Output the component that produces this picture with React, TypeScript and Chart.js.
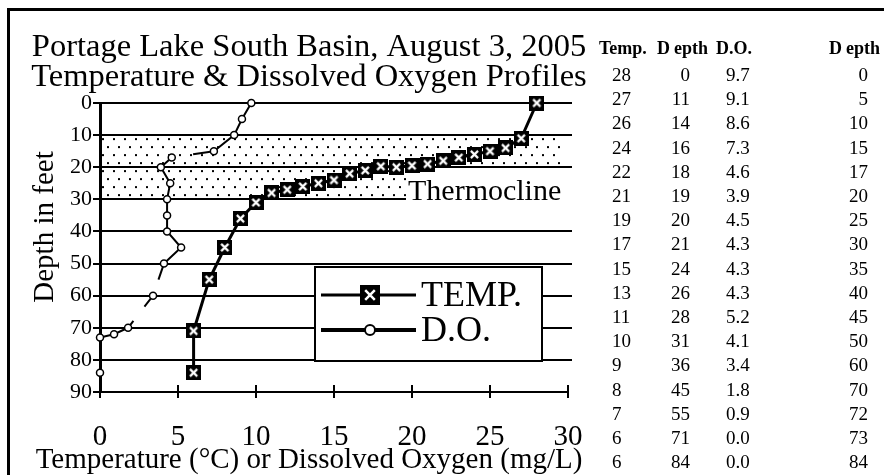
import React, { useEffect, useRef } from 'react';
import { Chart, registerables } from 'chart.js';

Chart.register(...registerables);

// ---- chart data ----
const tempValues = [28, 27, 26, 25, 24, 23, 22, 21, 20, 19, 18, 17, 16, 15, 14, 13, 12, 11, 10, 9, 8, 7, 6, 6];
const tempDepths = [0, 11, 14, 15, 16, 17, 18, 19, 19.5, 20, 19.7, 21, 22, 24, 25, 26, 27, 28, 31, 36, 45, 55, 71, 84];
const doValues = [9.7, 9.1, 8.6, 7.3, 4.6, 3.9, 4.5, 4.3, 4.3, 4.3, 5.2, 4.1, 3.4, 1.8, 0.9, 0, 0];
const doDepths = [0, 5, 10, 15, 17, 20, 25, 30, 35, 40, 45, 50, 60, 70, 72, 73, 84];

// ---- side table ----
const tableHeaders = ['Temp.', 'Depth', 'D.O.', 'Depth'];
const tableTemp = ['28', '27', '26', '24', '22', '21', '19', '17', '15', '13', '11', '10', '9', '8', '7', '6', '6'];
const tableTempDepth = ['0', '11', '14', '16', '18', '19', '20', '21', '24', '26', '28', '31', '36', '45', '55', '71', '84'];
const tableDO = ['9.7', '9.1', '8.6', '7.3', '4.6', '3.9', '4.5', '4.3', '4.3', '4.3', '5.2', '4.1', '3.4', '1.8', '0.9', '0.0', '0.0'];
const tableDODepth = ['0', '5', '10', '15', '17', '20', '25', '30', '35', '40', '45', '50', '60', '70', '72', '73', '84'];

const titleLines = ['Portage Lake South Basin, August 3, 2005', 'Temperature & Dissolved Oxygen Profiles'];
const xTitle = 'Temperature (\u00B0C) or Dissolved Oxygen (mg/L)';
const yTitle = 'Depth in feet';
const bandLabel = 'Thermocline';
const bandRange = [10, 30];
const legendLabels = ['TEMP.', 'D.O.'];

const SERIF = "'Liberation Serif', 'Times New Roman', Times, serif";

function makeXBox(size: number, lw: number): HTMLCanvasElement {
  const c = document.createElement('canvas');
  c.width = size;
  c.height = size;
  const g = c.getContext('2d')!;
  g.fillStyle = '#000';
  g.fillRect(0, 0, size, size);
  g.strokeStyle = '#fff';
  g.lineWidth = lw;
  const m = size * 0.26;
  g.beginPath();
  g.moveTo(m, m);
  g.lineTo(size - m, size - m);
  g.moveTo(size - m, m);
  g.lineTo(m, size - m);
  g.stroke();
  return c;
}

function makeDotTile(): HTMLCanvasElement {
  const c = document.createElement('canvas');
  c.width = 11;
  c.height = 16;
  const g = c.getContext('2d')!;
  g.fillStyle = '#000';
  g.fillRect(2, 3, 2, 2);
  g.fillRect(7, 11, 2, 2);
  return c;
}

function Header({ text, style }: { text: string; style: React.CSSProperties }) {
  // the reference prints "Depth" with a wide gap after the capital D
  if (text.startsWith('D') && text.length > 4 && !text.includes('.')) {
    return (
      <div style={style}>
        <span style={{ marginRight: 4 }}>{text[0]}</span>
        {text.slice(1)}
      </div>
    );
  }
  return <div style={style}>{text}</div>;
}

export default function App() {
  const ref = useRef<HTMLCanvasElement | null>(null);

  useEffect(() => {
    const canvas = ref.current;
    if (!canvas) return;
    const xbox = makeXBox(15, 2.2);
    const xboxBig = makeXBox(20, 2.5);
    const tile = makeDotTile();

    const decor = {
      id: 'decor',
      beforeDatasetsDraw(chart: any) {
        const { ctx, chartArea, scales } = chart;
        const x = scales.x;
        const y = scales.y;
        const yTop = y.getPixelForValue(bandRange[0]);
        const yBot = y.getPixelForValue(bandRange[1]);
        ctx.save();
        const pat = ctx.createPattern(tile, 'repeat');
        if (pat && (pat as any).setTransform) {
          (pat as any).setTransform(new DOMMatrix().translate(chartArea.left, yTop));
        }
        ctx.fillStyle = pat;
        const x0 = chartArea.left + 2;
        const x1 = x.getPixelForValue(29.6);
        ctx.fillRect(x0, yTop + 2, x1 - x0, yBot - yTop);
        // label box
        const y20 = y.getPixelForValue(20);
        ctx.fillStyle = '#fff';
        ctx.fillRect(chartArea.left + 306, y20 + 2, 175, yBot - y20 + 4);
        ctx.fillStyle = '#000';
        ctx.font = `30px ${SERIF}`;
        ctx.textBaseline = 'alphabetic';
        ctx.textAlign = 'left';
        ctx.fillText(bandLabel, chartArea.left + 308, yBot + 1);
        // inner x ticks
        ctx.strokeStyle = '#000';
        ctx.lineWidth = 2;
        const yb = chartArea.bottom;
        for (let v = 5; v <= 30; v += 5) {
          const px = Math.round(x.getPixelForValue(v));
          ctx.beginPath();
          ctx.moveTo(px, yb);
          ctx.lineTo(px, yb - 7);
          ctx.stroke();
        }
        // gridline overhang to the right
        for (let d = 0; d <= 80; d += 10) {
          if (d === 30) continue;
          const py = Math.round(y.getPixelForValue(d));
          ctx.beginPath();
          ctx.moveTo(chartArea.right, py);
          ctx.lineTo(chartArea.right + 4, py);
          ctx.stroke();
        }
        // y axis title
        ctx.save();
        ctx.translate(35, 217);
        ctx.rotate(-Math.PI / 2);
        ctx.font = `29px ${SERIF}`;
        ctx.textAlign = 'center';
        ctx.textBaseline = 'middle';
        ctx.fillText(yTitle, 0, 0);
        ctx.restore();
        ctx.restore();
      },
      afterDatasetsDraw(chart: any) {
        const { ctx, chartArea } = chart;
        const L = chartArea.left + 215;
        const T = chartArea.top + 164;
        const W = 227;
        const H = 94;
        ctx.save();
        ctx.fillStyle = '#fff';
        ctx.fillRect(L, T, W, H);
        ctx.strokeStyle = '#000';
        ctx.lineWidth = 2;
        ctx.strokeRect(L, T, W, H);
        const r1 = T + 28;
        const r2 = T + 63;
        ctx.lineWidth = 3;
        ctx.beginPath();
        ctx.moveTo(L + 6, r1);
        ctx.lineTo(L + 101, r1);
        ctx.stroke();
        ctx.drawImage(xboxBig, L + 55 - 10, r1 - 10);
        ctx.lineWidth = 4;
        ctx.beginPath();
        ctx.moveTo(L + 6, r2);
        ctx.lineTo(L + 101, r2);
        ctx.stroke();
        ctx.fillStyle = '#fff';
        ctx.lineWidth = 2;
        ctx.beginPath();
        ctx.arc(L + 55, r2, 5, 0, Math.PI * 2);
        ctx.fill();
        ctx.stroke();
        ctx.fillStyle = '#000';
        ctx.font = `36px ${SERIF}`;
        ctx.textBaseline = 'middle';
        ctx.fillText(legendLabels[0], L + 106, r1 + 2);
        ctx.fillText(legendLabels[1], L + 106, r2 + 2);
        ctx.restore();
      },
    };

    const chart = new Chart(canvas, {
      type: 'scatter',
      data: {
        datasets: [
          {
            label: legendLabels[0],
            data: tempValues.map((t, i) => ({ x: t, y: tempDepths[i] })),
            showLine: true,
            borderColor: '#000',
            borderWidth: 3,
            pointStyle: xbox as any,
            pointRadius: 7,
            clip: false as any,
          },
          {
            label: legendLabels[1],
            data: doValues.map((v, i) => ({ x: v, y: doDepths[i] })),
            showLine: true,
            borderColor: '#000',
            borderWidth: 2,
            pointStyle: 'circle',
            pointRadius: 3.5,
            pointBackgroundColor: '#fff',
            pointBorderColor: '#000',
            pointBorderWidth: 1.5,
            clip: false as any,
            segment: {
              borderDash: (c: any) => {
                if (c.p0DataIndex === 3) return [21, 200];
                if (c.p0DataIndex === 11) return [17, 200];
                if (c.p0DataIndex === 12) return [14, 18, 9, 200];
                return undefined;
              },
              borderColor: (c: any) => (c.p0DataIndex === 15 ? 'rgba(0,0,0,0)' : undefined),
            },
          },
        ],
      },
      options: {
        responsive: false,
        animation: false,
        devicePixelRatio: 1,
        layout: { padding: { left: 0, right: 0, top: 0, bottom: 0 } },
        plugins: {
          legend: { display: false },
          tooltip: { enabled: false },
          title: {
            display: true,
            text: titleLines,
            color: '#000',
            font: { family: SERIF, size: 32.5, weight: 'normal', lineHeight: '30px' },
            padding: { top: 22, bottom: 11 },
          },
          subtitle: {
            display: true,
            position: 'bottom',
            text: xTitle,
            color: '#000',
            font: { family: SERIF, size: 29, weight: 'normal', lineHeight: '28px' },
            padding: { top: 0, bottom: 1 },
          },
        },
        scales: {
          x: {
            type: 'linear',
            position: 'bottom',
            min: 0,
            max: 30,
            ticks: { stepSize: 5, color: '#000', font: { family: SERIF, size: 29, lineHeight: 1.1 }, padding: 23, maxRotation: 0 },
            grid: { display: true, drawOnChartArea: false, drawTicks: true, tickLength: 6, color: '#000', lineWidth: 2 },
            border: { display: true, color: '#000', width: 2 },
            afterFit: (s: any) => {
              s.height = 54;
              s.paddingLeft = 0;
              s.paddingRight = 40;
            },
          },
          y: {
            type: 'linear',
            reverse: true,
            min: 0,
            max: 90,
            ticks: { stepSize: 10, color: '#000', font: { family: SERIF, size: 22 }, padding: 1 },
            grid: { color: '#000', lineWidth: 2, tickLength: 7 },
            border: { display: true, color: '#000', width: 3 },
            afterFit: (s: any) => {
              s.width = 90;
              s.paddingTop = 0;
              s.paddingBottom = 0;
            },
          },
        },
      } as any,
      plugins: [decor],
    });
    return () => chart.destroy();
  }, []);

  const rowTop = (i: number) => 75 + i * 24.2 - 12;
  const cellBase: React.CSSProperties = {
    position: 'absolute',
    fontFamily: SERIF,
    fontSize: 19,
    lineHeight: '24px',
    color: '#000',
    whiteSpace: 'nowrap',
  };
  const headStyle: React.CSSProperties = { ...cellBase, fontWeight: 'bold', fontSize: 18, top: 36 };

  return (
    <div style={{ position: 'absolute', left: 0, top: 0, width: 884, height: 475, overflow: 'hidden', background: '#fff' }}>
      <div
        style={{
          position: 'absolute',
          left: 7,
          top: 8,
          width: 900,
          height: 500,
          borderTop: '3px solid #000',
          borderLeft: '3px solid #000',
        }}
      />
      <canvas ref={ref} width={598} height={465} style={{ position: 'absolute', left: 10, top: 10 }} />
      <Header text={tableHeaders[0]} style={{ ...headStyle, left: 599 }} />
      <Header text={tableHeaders[1]} style={{ ...headStyle, right: 884 - 708 }} />
      <Header text={tableHeaders[2]} style={{ ...headStyle, left: 716 }} />
      <Header text={tableHeaders[3]} style={{ ...headStyle, right: 4 }} />
      {tableTemp.map((v, i) => (
        <div key={'a' + i} style={{ ...cellBase, left: 612, top: rowTop(i) }}>{v}</div>
      ))}
      {tableTempDepth.map((v, i) => (
        <div key={'b' + i} style={{ ...cellBase, right: 884 - 690, top: rowTop(i) }}>{v}</div>
      ))}
      {tableDO.map((v, i) => (
        <div key={'c' + i} style={{ ...cellBase, left: 726, top: rowTop(i) }}>{v}</div>
      ))}
      {tableDODepth.map((v, i) => (
        <div key={'d' + i} style={{ ...cellBase, right: 884 - 868, top: rowTop(i) }}>{v}</div>
      ))}
    </div>
  );
}
